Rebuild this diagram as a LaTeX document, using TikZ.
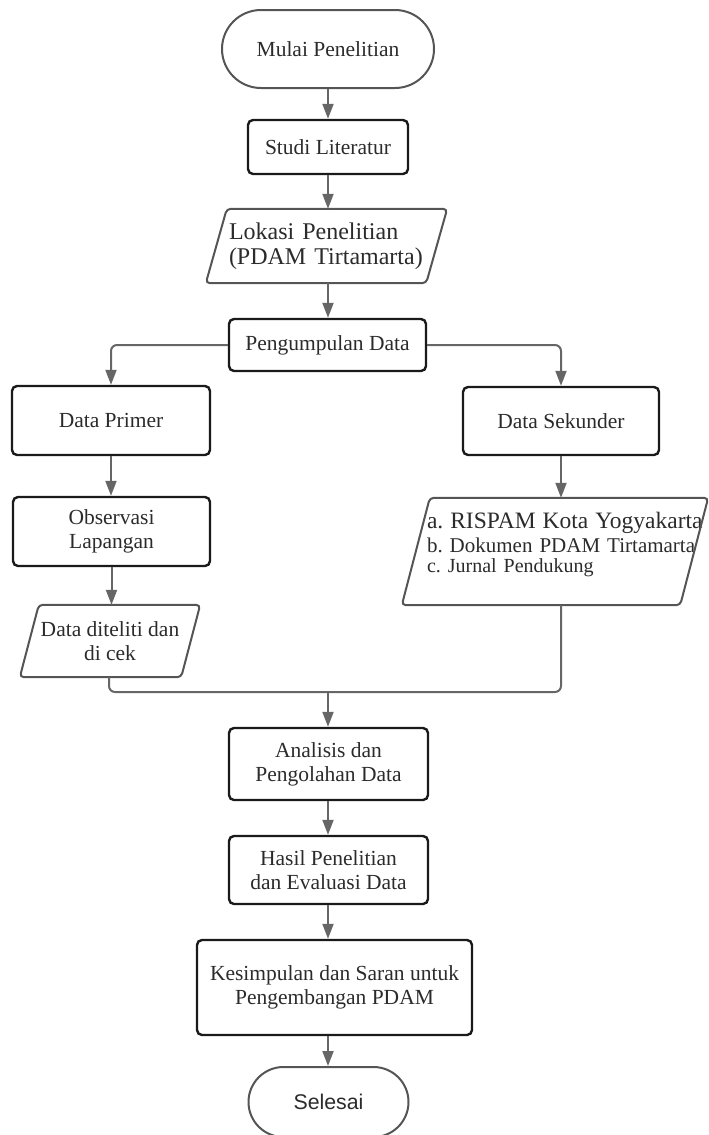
\documentclass[tikz,border=0pt]{standalone}
\usepackage{fontspec}
\setmainfont{Liberation Serif}
\newfontfamily\selfont{Liberation Sans}
\usetikzlibrary{arrows.meta,calc,shapes.misc}
\definecolor{lineg}{HTML}{666666}
\definecolor{txt}{HTML}{2B2B2B}
\definecolor{edge}{HTML}{1A1A1A}
\definecolor{termedge}{HTML}{555555}
\tikzset{
  base/.style={text=txt,font=\fontsize{21.5}{24}\selectfont\frenchspacing,align=center,inner sep=0pt},
  box/.style={base,draw=edge,line width=2.4pt,rounded corners=5pt},
  term/.style={base,draw=termedge,line width=2pt,rounded rectangle},
  para/.style={base},
  parab/.style={draw=termedge,line width=2pt,rounded corners=4pt},
  conn/.style={draw=lineg,line width=2pt,rounded corners=6pt,-{Triangle[length=15pt,width=11pt]}},
  link/.style={draw=lineg,line width=2pt,rounded corners=6pt},
}
\newcommand{\drawpara}[2]{%
  \draw[parab] ($(#1.north west)+(#2,0)$) -- (#1.north east) -- ($(#1.south east)-(#2,0)$) -- (#1.south west) -- cycle;}
\begin{document}
\begin{tikzpicture}[x=1pt,y=-1pt]
\useasboundingbox (0,0) rectangle (709,1135);

\node[term,minimum width=212pt,minimum height=78pt] (mulai) at (328,49) {Mulai Penelitian};
\node[box,minimum width=160pt,minimum height=54pt] (studi) at (328,147) {Studi Literatur};
\node[para,minimum width=241pt,minimum height=74pt,text width=195pt,inner xsep=23pt,align=left,
      font=\fontsize{24}{25}\selectfont\frenchspacing] (lok) at (326.5,246)
      {\mbox{Lokasi Penelitian}\\\mbox{(PDAM Tirtamarta)}};
\drawpara{lok}{21}
\node[box,minimum width=197pt,minimum height=52pt] (peng) at (327.5,345) {Pengumpulan Data};
\node[box,minimum width=198pt,minimum height=69pt] (primer) at (111,420.5) {Data Primer};
\node[box,minimum width=196pt,minimum height=68pt] (sek) at (561,421) {Data Sekunder};
\node[box,minimum width=197pt,minimum height=69pt] (obs) at (111.5,531.5) {Observasi\\Lapangan};
\node[para,minimum width=180pt,minimum height=72pt] (dit) at (110,641) {Data diteliti dan\\di cek};
\drawpara{dit}{19}
\node[para,minimum width=306pt,minimum height=107pt,text width=256pt,inner xsep=25pt,align=left,
      font=\fontsize{21}{24}\selectfont\frenchspacing] (ris) at (555,551.5)
      {\mbox{\fontsize{23.5}{24}\selectfont a. RISPAM Kota Yogyakarta}\\
       \mbox{b. Dokumen PDAM Tirtamarta}\\[-4pt]
       \mbox{\fontsize{20}{21}\selectfont c. Jurnal Pendukung}\\[-6pt]\mbox{}};
\drawpara{ris}{28}
\node[box,minimum width=199pt,minimum height=72pt] (ana) at (328.5,764) {Analisis dan\\Pengolahan Data};
\node[box,minimum width=199pt,minimum height=68pt] (has) at (328.5,870) {Hasil Penelitian\\dan Evaluasi Data};
\node[box,minimum width=275pt,minimum height=95pt] (kes) at (334.5,987.5) {Kesimpulan dan Saran untuk\\Pengembangan PDAM};
\node[term,minimum width=160pt,minimum height=70pt,font=\selfont\fontsize{21.3}{24}\selectfont] (sel) at (328.5,1102) {Selesai};

\coordinate (join) at (328,692);

\draw[conn] (mulai.south -| studi) -- (studi.north);
\draw[conn] (studi.south) -- (studi.south |- lok.north);
\draw[conn] (lok.south -| studi) -- (studi |- peng.north);
\draw[conn] (peng.west) -| (primer.north);
\draw[conn] (peng.east) -| (sek.north);
\draw[conn] (primer.south) -- (primer.south |- obs.north);
\draw[conn] (obs.south) -- (obs.south |- dit.north);
\draw[conn] (sek.south) -- (sek.south |- ris.north);
\draw[link] (dit.south -| 109,0) |- (join);
\draw[link] (ris.south -| sek) |- (join);
\draw[conn] (join) -- (join |- ana.north);
\draw[conn] (ana.south -| join) -- (join |- has.north);
\draw[conn] (has.south -| join) -- (join |- kes.north);
\draw[conn] (kes.south -| join) -- (join |- sel.north);
\end{tikzpicture}
\end{document}
